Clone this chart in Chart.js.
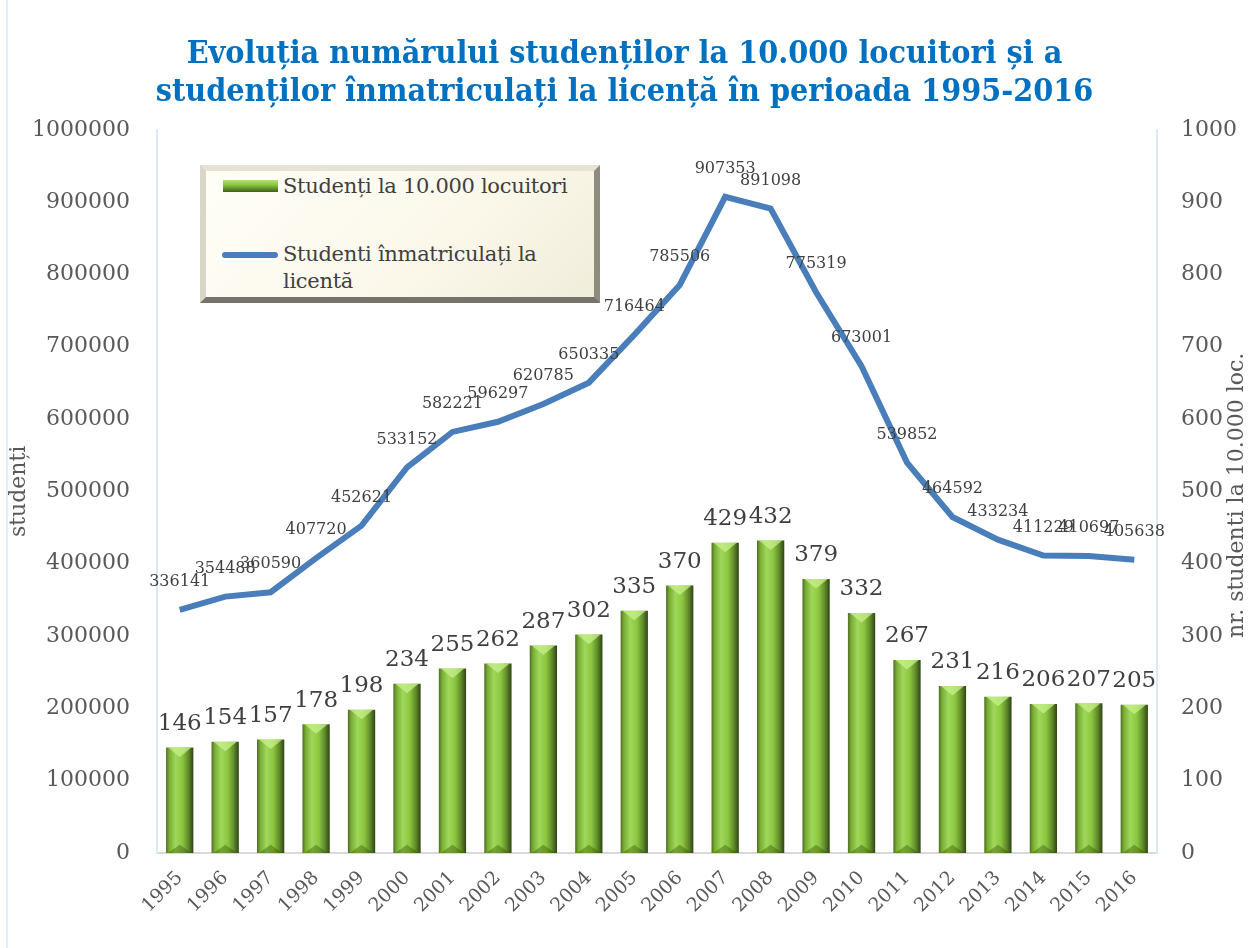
<!DOCTYPE html>
<html>
<head>
<meta charset="utf-8">
<script src="https://cdn.jsdelivr.net/npm/chart.js@4/dist/chart.umd.min.js"></script>
<style>
  body { margin: 0; background: #fff; }
  #wrap { position: relative; width: 1249px; height: 948px; }
  #chart { display: block; }
  #frame { position: absolute; left: 6px; top: 0; width: 0; height: 948px; border-left: 2px solid #e4eef7; }
  #legend {
    position: absolute; left: 200px; top: 165px; width: 388px; height: 126px;
    border: 6px solid; border-color: #e6e2d4 #8f8b7e #76736a #d9d5c7;
    background: linear-gradient(135deg, #fffef7 0%, #fbf8ea 60%, #f1eddb 100%);
    font-family: "DejaVu Serif", serif; font-size: 21px; color: #404040;
  }
  #legend .sw-bar { position: absolute; left: 17px; top: 9px; width: 55px; height: 12px;
    background: linear-gradient(180deg, #b4e07a 0%, #8cc63f 40%, #5f8a2a 75%, #3f5f1a 100%); }
  #legend .sw-line { position: absolute; left: 16px; top: 81px; width: 56px; height: 6px; border-radius: 3px; background: #4a7ebb; }
  #legend .t { position: absolute; left: 77px; white-space: nowrap; line-height: 27px; letter-spacing: -0.3px; }
</style>
</head>
<body>
<div id="wrap">
  <canvas id="chart" width="1249" height="948"></canvas>
  <div id="frame"></div>
  <div id="legend">
    <div class="sw-bar"></div>
    <div class="t" style="top:2px">Studenți la 10.000 locuitori</div>
    <div class="sw-line"></div>
    <div class="t" style="top:70px">Studenti înmatriculați la<br>licentă</div>
  </div>
</div>
<script>
const years = ['1995','1996','1997','1998','1999','2000','2001','2002','2003','2004','2005',
               '2006','2007','2008','2009','2010','2011','2012','2013','2014','2015','2016'];
const perTenThousand = [146,154,157,178,198,234,255,262,287,302,335,370,429,432,379,332,267,231,216,206,207,205];
const enrolled = [336141,354488,360590,407720,452621,533152,582221,596297,620785,650335,716464,
                  785506,907353,891098,775319,673001,539852,464592,433234,411229,410697,405638];
const leftTicks = [0,100000,200000,300000,400000,500000,600000,700000,800000,900000,1000000];
const rightTicks = [0,100,200,300,400,500,600,700,800,900,1000];

const serif = '"DejaVu Serif", serif';
const tickGrey = '#595959';
const barPct = 0.6;

function barGradient(c) {
  const chart = c.chart;
  const xs = chart.scales.x;
  if (!xs || c.type !== 'data') return '#8cc63f';
  const cx = xs.getPixelForValue(c.dataIndex);
  const half = xs.width / years.length * barPct / 2;
  if (!isFinite(cx) || !isFinite(half) || half <= 0) return '#8cc63f';
  const g = chart.ctx.createLinearGradient(cx - half, 0, cx + half, 0);
  g.addColorStop(0, '#4e6e22');
  g.addColorStop(0.12, '#79ad35');
  g.addColorStop(0.35, '#9fd85a');
  g.addColorStop(0.6, '#8cc63f');
  g.addColorStop(0.82, '#5f8a2a');
  g.addColorStop(1, '#2f4413');
  return g;
}

// bevel highlights on the top and bottom of each bar, taken from the bar elements
const bevel = {
  id: 'bevel',
  afterDatasetDraw(chart, args) {
    if (args.meta.type !== 'bar') return;
    const ctx = chart.ctx;
    ctx.save();
    args.meta.data.forEach(b => {
      const w = b.width, l = b.x - w / 2, r = b.x + w / 2;
      ctx.fillStyle = 'rgba(200,240,140,0.75)';
      ctx.beginPath();
      ctx.moveTo(l + 2, b.y); ctx.lineTo(r - 2, b.y); ctx.lineTo(b.x, b.y + w * 0.35);
      ctx.closePath(); ctx.fill();
      ctx.fillStyle = 'rgba(40,60,15,0.35)';
      ctx.beginPath();
      ctx.moveTo(l + 2, b.base); ctx.lineTo(r - 2, b.base); ctx.lineTo(b.x, b.base - w * 0.3);
      ctx.closePath(); ctx.fill();
    });
    ctx.restore();
  }
};

// value labels for bars and line points
const valueLabels = {
  id: 'valueLabels',
  afterDatasetsDraw(chart) {
    const ctx = chart.ctx;
    ctx.save();
    ctx.textAlign = 'center';
    ctx.textBaseline = 'bottom';
    chart.data.datasets.forEach((ds, i) => {
      const meta = chart.getDatasetMeta(i);
      meta.data.forEach((el, j) => {
        if (meta.type === 'bar') {
          ctx.font = '23px ' + serif;
          ctx.fillStyle = '#404040';
          ctx.fillText(String(ds.data[j]), el.x, el.y - 12);
        } else {
          ctx.font = '16px ' + serif;
          ctx.fillStyle = '#404040';
          ctx.fillText(String(ds.data[j]), el.x, el.y - 20);
        }
      });
    });
    ctx.restore();
  }
};

// axis titles, both reading bottom-to-top
const axisTitles = {
  id: 'axisTitles',
  afterDraw(chart) {
    const ctx = chart.ctx;
    const a = chart.chartArea;
    const cy = (a.top + a.bottom) / 2;
    ctx.save();
    ctx.fillStyle = tickGrey;
    ctx.textAlign = 'center';
    ctx.textBaseline = 'middle';
    ctx.font = '22px ' + serif;
    ctx.translate(19, cy); ctx.rotate(-Math.PI / 2);
    ctx.fillText('studenți', 0, 0);
    ctx.restore();
    ctx.save();
    ctx.fillStyle = tickGrey;
    ctx.textAlign = 'center';
    ctx.textBaseline = 'middle';
    ctx.font = '22px ' + serif;
    ctx.translate(1237, cy + 4); ctx.rotate(-Math.PI / 2);
    ctx.fillText('nr. studenti la 10.000 loc.', 0, 0);
    ctx.restore();
  }
};

new Chart(document.getElementById('chart'), {
  data: {
    labels: years,
    datasets: [
      {
        type: 'line',
        label: 'Studenti înmatriculați la licentă',
        data: enrolled,
        yAxisID: 'y',
        borderColor: '#4a7ebb',
        borderWidth: 6,
        pointRadius: 0,
        tension: 0,
        order: 0
      },
      {
        type: 'bar',
        label: 'Studenți la 10.000 locuitori',
        data: perTenThousand,
        yAxisID: 'y1',
        backgroundColor: barGradient,
        barPercentage: barPct,
        categoryPercentage: 1,
        order: 1
      }
    ]
  },
  options: {
    responsive: false,
    animation: false,
    layout: { padding: 0 },
    plugins: {
      legend: { display: false },
      tooltip: { enabled: false },
      title: {
        display: true,
        text: ['Evoluția numărului studenților la 10.000 locuitori și a',
               'studenților înmatriculați la licență în perioada 1995-2016'],
        color: '#0070c0',
        font: { family: '"DejaVu Serif Condensed", "DejaVu Serif", serif', size: 32, weight: 'bold', lineHeight: 1.2 },
        padding: { top: 35, bottom: 18 }
      }
    },
    scales: {
      x: {
        grid: { display: false },
        border: { color: '#d9d9d9', width: 2 },
        ticks: { color: tickGrey, font: { family: serif, size: 19 }, minRotation: 45, maxRotation: 45, padding: 6 },
        afterFit(s) { s.height = 95; }
      },
      y: {
        position: 'left',
        min: 0, max: 1000000,
        afterBuildTicks(s) { s.ticks = leftTicks.map(v => ({ value: v })); },
        grid: { display: false },
        border: { color: '#dbe9f5', width: 2 },
        ticks: { color: tickGrey, font: { family: serif, size: 22 }, padding: 19, callback: v => String(v) },
        afterFit(s) { s.width = 157; }
      },
      y1: {
        position: 'right',
        min: 0, max: 1000,
        afterBuildTicks(s) { s.ticks = rightTicks.map(v => ({ value: v })); },
        grid: { display: false },
        border: { color: '#dbe9f5', width: 2 },
        ticks: { color: tickGrey, font: { family: serif, size: 22 }, padding: 16, callback: v => String(v) },
        afterFit(s) { s.width = 92; }
      }
    }
  },
  plugins: [bevel, valueLabels, axisTitles]
});
</script>
</body>
</html>
